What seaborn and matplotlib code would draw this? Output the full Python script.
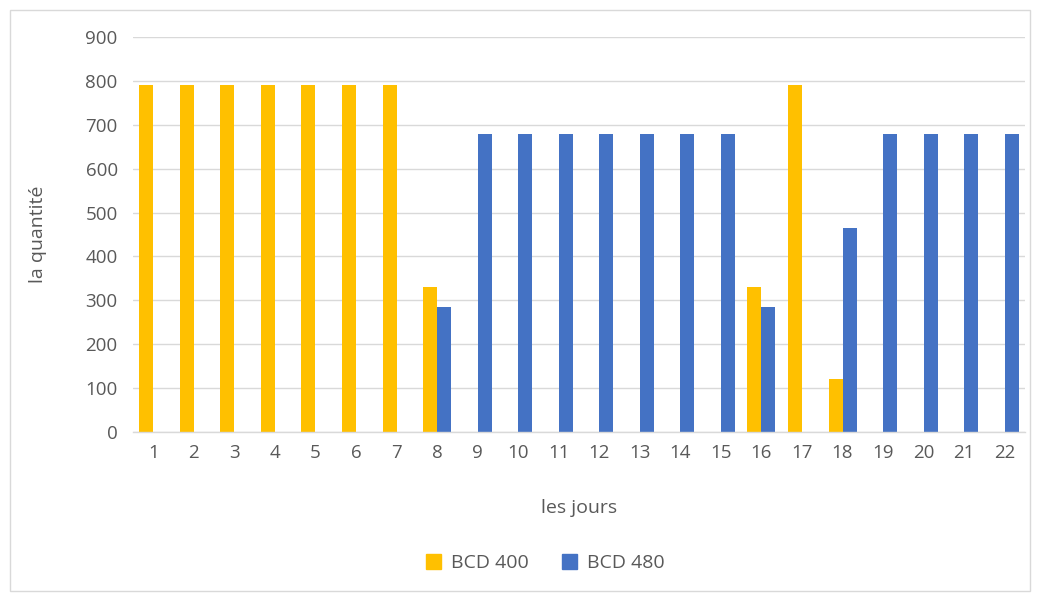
import matplotlib
matplotlib.use("Agg")
import matplotlib.pyplot as plt
import matplotlib.patches as mpatches
import seaborn as sns
import pandas as pd

days = list(range(1, 23))
series_names = ["BCD 400", "BCD 480"]
bcd400 = {1: 790, 2: 790, 3: 790, 4: 790, 5: 790, 6: 790, 7: 790,
          8: 330, 16: 330, 17: 790, 18: 120}
bcd480 = {8: 285, 9: 680, 10: 680, 11: 680, 12: 680, 13: 680, 14: 680,
          15: 680, 16: 285, 18: 465, 19: 680, 20: 680, 21: 680, 22: 680}
y_ticks = list(range(0, 1000, 100))

rows = []
for name, vals in zip(series_names, [bcd400, bcd480]):
    for d, v in vals.items():
        rows.append({"jour": str(d), "serie": name, "valeur": v})
df = pd.DataFrame(rows)

sns.set_theme(style="white")
plt.rcParams["font.family"] = ["Open Sans", "DejaVu Sans"]
text_color = "#595959"

fig = plt.figure(figsize=(10.4, 5.96), dpi=100)
ax = fig.add_axes([133 / 1040, 1 - 432 / 596, (1025 - 133) / 1040, (432 - 37) / 596])

palette = {"BCD 400": "#FFC000", "BCD 480": "#4472C4"}
sns.barplot(data=df, x="jour", y="valeur", hue="serie",
            order=[str(d) for d in days], hue_order=series_names,
            palette=palette, width=0.69, dodge=True, saturation=1,
            linewidth=0, errorbar=None, ax=ax, legend=False)

ax.set_ylim(0, 900)
ax.set_xlim(-0.5, len(days) - 0.5)
ax.set_yticks(y_ticks)
ax.yaxis.grid(True, color="#D9D9D9", linewidth=1)
ax.set_axisbelow(True)
for s in ["top", "right", "left"]:
    ax.spines[s].set_visible(False)
ax.spines["bottom"].set_color("#D9D9D9")
ax.spines["bottom"].set_linewidth(1)
ax.tick_params(axis="both", length=0, labelsize=13.5, colors=text_color)
ax.tick_params(axis="y", pad=11)
ax.tick_params(axis="x", pad=9)

ax.set_xlabel("les jours", fontsize=14, color=text_color, labelpad=26)
ax.set_ylabel("la quantité", fontsize=14, color=text_color, labelpad=28)

handles = [mpatches.Patch(color=palette[n], label=n) for n in series_names]
fig.legend(handles=handles, loc="center", bbox_to_anchor=(545 / 1040, 1 - 563 / 596),
           ncol=2, frameon=False, fontsize=14, labelcolor=text_color,
           handlelength=0.8, handleheight=0.8, handletextpad=0.5, columnspacing=1.7)

fig.patches.append(mpatches.Rectangle((10 / 1040, 1 - 591 / 596), 1020 / 1040, 581 / 596,
                                      transform=fig.transFigure, fill=False,
                                      edgecolor="#D9D9D9", linewidth=1))

fig.savefig("out.png", dpi=100)
